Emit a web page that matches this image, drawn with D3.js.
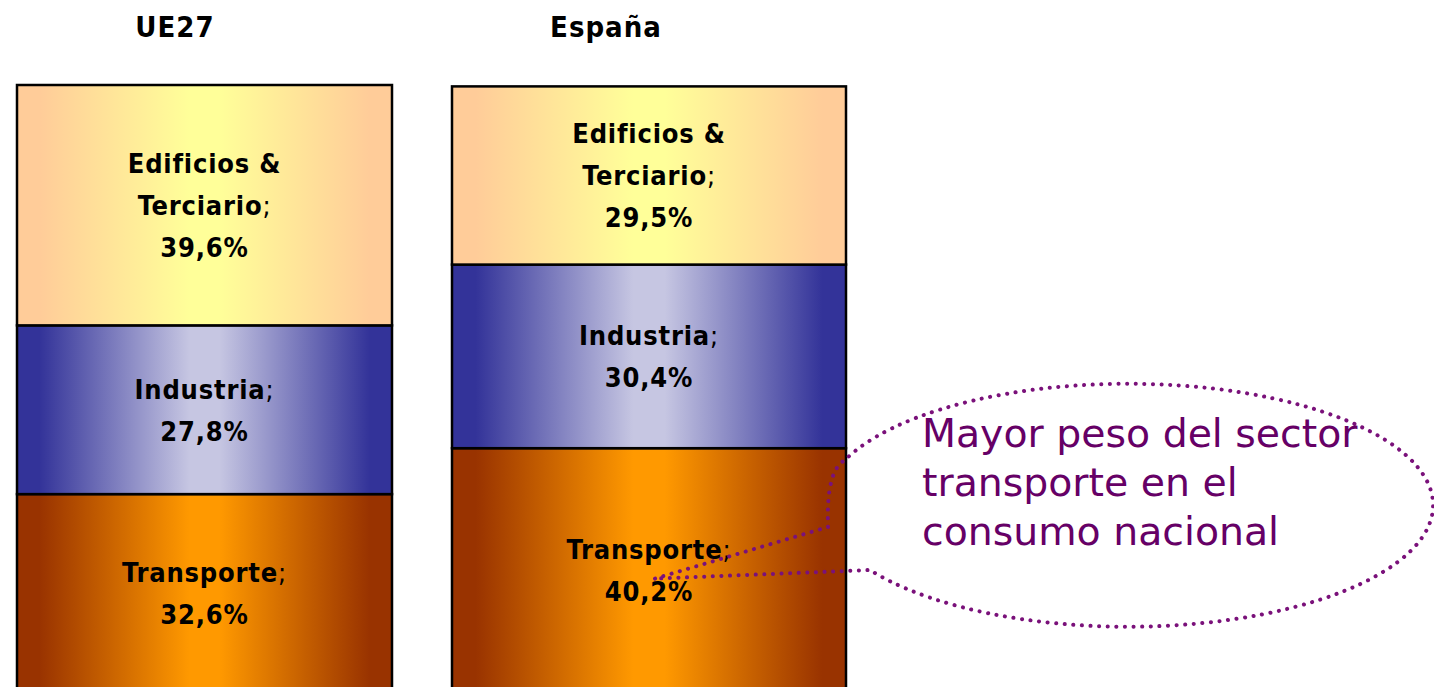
<!DOCTYPE html>
<html>
<head>
<meta charset="utf-8">
<script src="https://cdn.jsdelivr.net/npm/d3@7"></script>
<style>
  body { margin: 0; background: #fff; }
  svg { display: block; }
</style>
</head>
<body>
<div id="chart-area"></div>
<script>
// shares of final energy consumption by sector (%)
const groups = ["UE27", "España"];
const sectors = ["Transporte", "Industria", "Edificios & Terciario"];
const ue27Values = [32.6, 27.8, 39.6];
const espanaValues = [40.2, 30.4, 29.5];
const noteLines = ["Mayor peso del sector", "transporte en el", "consumo nacional"];

const width = 1434, height = 687;
const labelFont = "'DejaVu Sans Condensed', 'DejaVu Sans', sans-serif";

const svg = d3.select("#chart-area")
    .append("svg")
    .attr("width", width)
    .attr("height", height);

// gradients: dark edges, light centre
const gradColors = {
    "Transporte": ["#993300", "#ff9900"],
    "Industria": ["#333399", "#c6c6e2"],
    "Edificios & Terciario": ["#ffcc99", "#ffff99"]
};
const defs = svg.append("defs");
sectors.forEach((s, i) => {
    const g = defs.append("linearGradient")
        .attr("id", "grad" + i)
        .attr("x1", "0%").attr("x2", "100%")
        .attr("y1", "0%").attr("y2", "0%");
    [[0, 0], [0.06, 0], [0.46, 1], [0.54, 1], [0.94, 0], [1, 0]].forEach(st => {
        g.append("stop")
            .attr("offset", st[0])
            .attr("stop-color", gradColors[s][st[1]]);
    });
});

const fmt = v => d3.format(".1f")(v).replace(".", ",") + "%";

// each bar is its own little chart, as in the original slide
const panels = [
    { name: groups[0], values: ue27Values, xr: [17, 392], yr: [692, 85], titleX: 175 },
    { name: groups[1], values: espanaValues, xr: [452, 846], yr: [691, 87], titleX: 606 }
];

panels.forEach(p => {
    const x = d3.scaleBand()
        .domain([p.name])
        .range(p.xr)
        .padding(0);
    const y = d3.scaleLinear()
        .domain([0, 100])
        .range(p.yr);

    let cum = 0;
    const segs = p.values.map((v, i) => {
        const s = { sector: sectors[i], value: v, y0: cum, y1: cum + v, i: i };
        cum += v;
        return s;
    });

    const g = svg.append("g");

    // title
    g.append("text")
        .attr("x", p.titleX)
        .attr("y", 37)
        .attr("text-anchor", "middle")
        .attr("font-family", labelFont)
        .attr("font-weight", "bold")
        .attr("font-size", "29px")
        .attr("letter-spacing", "1px")
        .attr("fill", "#000")
        .text(p.name);

    g.selectAll("rect")
        .data(segs)
        .enter()
        .append("rect")
        .attr("x", x(p.name))
        .attr("width", x.bandwidth())
        .attr("y", d => y(d.y1))
        .attr("height", d => y(d.y0) - y(d.y1))
        .attr("fill", d => "url(#grad" + d.i + ")")
        .attr("stroke", "#000")
        .attr("stroke-width", 2.5);

    // data labels
    const cx = x(p.name) + x.bandwidth() / 2;
    segs.forEach(d => {
        const lines = d.sector === "Edificios & Terciario"
            ? [["Edificios &", ""], ["Terciario", ";"], [fmt(d.value), ""]]
            : [[d.sector, ";"], [fmt(d.value), ""]];
        const mid = (y(d.y0) + y(d.y1)) / 2;
        const lh = 42;
        const t = g.append("text")
            .attr("text-anchor", "middle")
            .attr("font-family", labelFont)
            .attr("font-weight", "bold")
            .attr("font-size", "27px")
            .attr("letter-spacing", "0.8px")
            .attr("fill", "#000");
        lines.forEach((ln, k) => {
            t.append("tspan")
                .attr("x", cx)
                .attr("y", mid + (k - (lines.length - 1) / 2) * lh + 10)
                .text(ln[0]);
            if (ln[1]) {
                t.append("tspan")
                    .attr("font-weight", "normal")
                    .text(ln[1]);
            }
        });
        d.mid = mid;
    });
    p.segs = segs;
    p.cx = cx;
});

// callout bubble pointing at the Spanish transport share
const tipX = panels[1].cx + 6;
const tipY = panels[1].segs[0].mid + 9;
const erx = 305, ery = 121.5;
const ax = 845, ay = 460, bx = 870, by = 570;
const bubble = "M" + tipX + "," + tipY +
    " L828,527 Q826,470 " + ax + "," + ay +
    " A" + erx + "," + ery + " 0 1 1 " + bx + "," + by +
    " L" + tipX + "," + tipY;
svg.append("path")
    .attr("d", bubble)
    .attr("fill", "none")
    .attr("stroke", "#7a117a")
    .attr("stroke-width", 4)
    .attr("stroke-linecap", "round")
    .attr("stroke-dasharray", "0.1 8.5");

svg.append("text")
    .attr("font-family", "'DejaVu Sans', sans-serif")
    .attr("font-size", "39.4px")
    .attr("fill", "#660066")
    .selectAll("tspan")
    .data(noteLines)
    .enter()
    .append("tspan")
    .attr("x", 922)
    .attr("y", (d, i) => 447 + i * 49)
    .text(d => d);
</script>
</body>
</html>
